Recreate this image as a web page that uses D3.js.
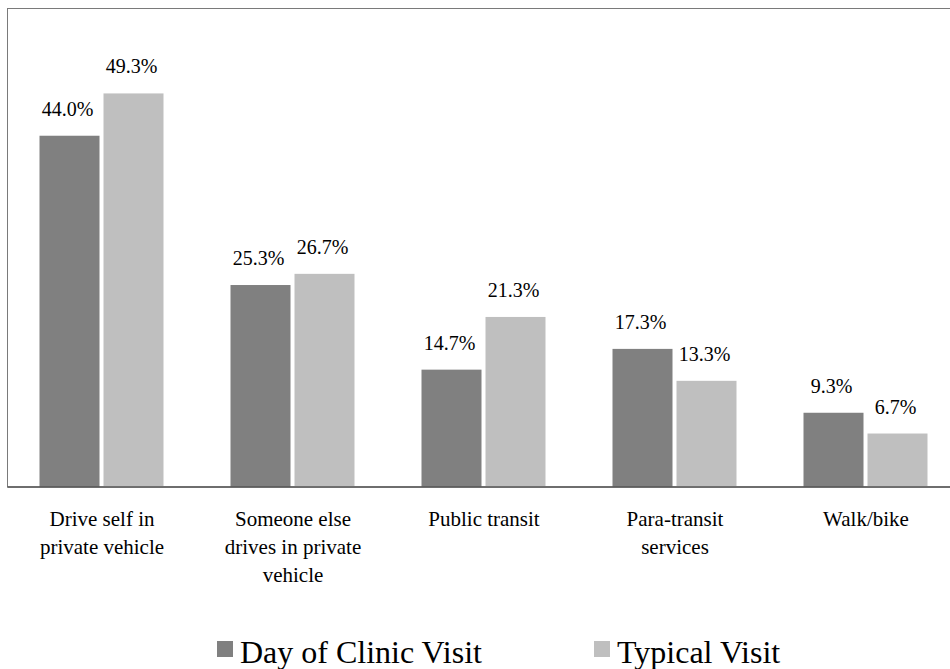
<!DOCTYPE html>
<html>
<head>
<meta charset="utf-8">
<script src="https://cdn.jsdelivr.net/npm/d3@7"></script>
<style>
  body { margin: 0; font-family: "Liberation Serif", "Times New Roman", Tinos, serif; }
  svg, svg text, svg tspan { font-family: "Liberation Serif", "Times New Roman", Tinos, serif !important; }
</style>
</head>
<body>
<script>
const categories = [
  "Drive self in private vehicle",
  "Someone else drives in private vehicle",
  "Public transit",
  "Para-transit services",
  "Walk/bike"
];
const seriesNames = ["Day of Clinic Visit", "Typical Visit"];
const dayOfClinicVisit = [44.0, 25.3, 14.7, 17.3, 9.3];
const typicalVisit = [49.3, 26.7, 21.3, 13.3, 6.7];
const seriesColors = ["#808080", "#BFBFBF"];

const W = 950, H = 669;
const svg = d3.select("body").append("svg").attr("width", W).attr("height", H)
  .style("display", "block");

const x0 = d3.scaleBand().domain(categories).range([6.5, 961.5]).paddingInner(0).paddingOuter(0);
const x1 = d3.scaleBand().domain(seriesNames).range([33, 157]).paddingInner(0.0625).paddingOuter(0);
const y = d3.scaleLinear().domain([0, 60]).range([487, 8]);

// plot border (top + left)
svg.append("rect")
  .attr("x", 7.5).attr("y", 8.5)
  .attr("width", 1000).attr("height", y(0) - 8.5)
  .attr("fill", "none").attr("stroke", "#7a7a7a").attr("stroke-width", 1);

const rows = categories.map((c, i) => ({
  cat: c,
  vals: [
    { s: seriesNames[0], v: dayOfClinicVisit[i], c: seriesColors[0] },
    { s: seriesNames[1], v: typicalVisit[i], c: seriesColors[1] }
  ]
}));

const g = svg.selectAll("g.grp").data(rows).enter().append("g")
  .attr("class", "grp")
  .attr("transform", d => `translate(${x0(d.cat)},0)`);

g.selectAll("rect").data(d => d.vals).enter().append("rect")
  .attr("x", d => x1(d.s))
  .attr("width", x1.bandwidth())
  .attr("y", d => y(d.v))
  .attr("height", d => y(0) - y(d.v))
  .attr("fill", d => d.c);

g.selectAll("text.lbl").data(d => d.vals).enter().append("text")
  .attr("class", "lbl")
  .style("font-size", "20px")
  .attr("x", d => x1(d.s) + x1.bandwidth() / 2 - 2)
  .attr("y", d => y(d.v) - 20)
  .attr("text-anchor", "middle")
  .text(d => d.v.toFixed(1) + "%");

// axis line
const xAxis = d3.axisBottom(x0).tickSize(0).tickFormat("");
const axG = svg.append("g").attr("transform", `translate(0,${y(0)})`).call(xAxis);
axG.attr("font-family", null).attr("font-size", null);
axG.select(".domain").attr("stroke", "#555").attr("stroke-width", 1.3)
  .attr("d", `M7.5,0H${W + 10}`);

// category labels, wrapped by character count
function wrapWords(s, maxChars) {
  const out = [];
  let cur = "";
  s.split(" ").forEach(w => {
    const next = cur ? cur + " " + w : w;
    if (next.length > maxChars && cur) { out.push(cur); cur = w; }
    else cur = next;
  });
  if (cur) out.push(cur);
  return out;
}
categories.forEach(c => {
  const cx = x0(c) + x0.bandwidth() / 2;
  svg.append("text")
    .style("font-size", "21px")
    .attr("text-anchor", "middle")
    .selectAll("tspan").data(wrapWords(c, 18)).enter().append("tspan")
    .attr("x", cx)
    .attr("y", (d, i) => 526 + i * 28)
    .text(d => d);
});

// legend
const legendX = [217, 594];
const leg = svg.selectAll("g.leg").data(seriesNames).enter().append("g")
  .attr("class", "leg")
  .attr("transform", (d, i) => `translate(${legendX[i]},641)`);
leg.append("rect").attr("width", 16).attr("height", 16)
  .attr("fill", (d, i) => seriesColors[i]);
leg.append("text").attr("x", 23).attr("y", 21.5)
  .style("font-size", "32px")
  .text(d => d);
</script>
</body>
</html>
